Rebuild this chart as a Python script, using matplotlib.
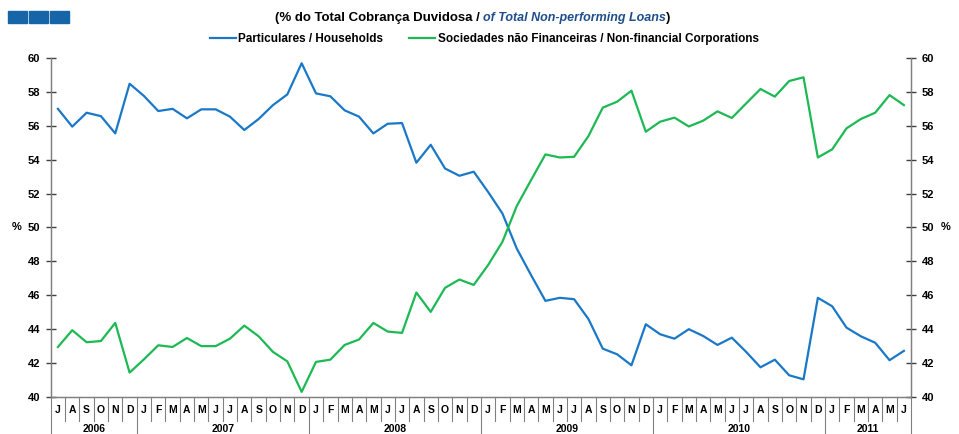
import matplotlib
matplotlib.use('Agg')
import matplotlib.pyplot as plt
import matplotlib.transforms as mtransforms
from matplotlib.patches import Rectangle

plt.rcParams['font.family'] = ['Liberation Sans', 'DejaVu Sans']

# monthly shares, Jul 2006 - Jun 2011 (% of total non-performing loans)
households = [57.0, 55.95, 56.77, 56.57, 55.55, 58.48,
              57.76, 56.87, 57.0, 56.44, 56.97, 56.97, 56.54, 55.75, 56.4, 57.22, 57.85, 59.69,
              57.91, 57.74, 56.91, 56.54, 55.55, 56.12, 56.16, 53.82, 54.88, 53.48, 53.05, 53.29,
              52.1, 50.83, 48.76, 47.19, 45.67, 45.85, 45.77, 44.6, 42.85, 42.52, 41.87, 44.29,
              43.7, 43.44, 44.0, 43.6, 43.07, 43.5, 42.66, 41.75, 42.2, 41.28, 41.04, 45.85,
              45.35, 44.09, 43.58, 43.2, 42.17, 42.72]
corporations = [42.95, 43.94, 43.23, 43.3, 44.37, 41.44,
                42.22, 43.05, 42.95, 43.48, 43.0, 43.0, 43.44, 44.21, 43.58, 42.66, 42.1, 40.3,
                42.07, 42.2, 43.07, 43.39, 44.37, 43.86, 43.78, 46.16, 45.02, 46.44, 46.93, 46.61,
                47.78, 49.15, 51.26, 52.8, 54.31, 54.13, 54.17, 55.39, 57.07, 57.42, 58.07, 55.65,
                56.24, 56.48, 55.96, 56.3, 56.85, 56.46, 57.32, 58.17, 57.72, 58.64, 58.86, 54.13,
                54.61, 55.85, 56.4, 56.77, 57.81, 57.22]
month_letters = ['J', 'F', 'M', 'A', 'M', 'J', 'J', 'A', 'S', 'O', 'N', 'D']
first_month = 6  # July 2006
years = [2006, 2007, 2008, 2009, 2010, 2011]

n = len(households)
x = list(range(n))
month_labels = [month_letters[(first_month + i) % 12] for i in x]
year_of = [years[0] + (first_month + i) // 12 for i in x]

blue = '#1a78c8'
green = '#1db954'
axcol = '#808080'

fig = plt.figure(figsize=(9.59, 4.34), dpi=100)
ax = fig.add_axes([0.0529, 0.0853, 0.8971, 0.7811])
ax.plot(x, households, color=blue, lw=1.6, label='Particulares / Households')
ax.plot(x, corporations, color=green, lw=1.6, label='Sociedades não Financeiras / Non-financial Corporations')
ax.set_xlim(-0.5, n - 0.5)
ax.set_ylim(40, 60)
ax.set_yticks(range(40, 61, 2))
ax.set_xticks([])
ax.spines['top'].set_visible(False)
for s in ['left', 'right', 'bottom']:
    ax.spines[s].set_color(axcol)
    ax.spines[s].set_linewidth(1.0)
ax.tick_params(axis='y', direction='inout', length=7, width=1, color='#404040', pad=4,
               labelsize=8)
for lab in ax.get_yticklabels():
    lab.set_fontweight('bold')

ax2 = ax.twinx()
ax2.set_ylim(40, 60)
ax2.set_yticks(range(40, 61, 2))
ax2.spines['top'].set_visible(False)
for s in ['left', 'right', 'bottom']:
    ax2.spines[s].set_color(axcol)
ax2.tick_params(axis='y', direction='inout', length=7, width=1, color='#404040', pad=4,
                labelsize=8)
for lab in ax2.get_yticklabels():
    lab.set_fontweight('bold')

ax.text(-0.045, 0.5, '%', transform=ax.transAxes, fontsize=8, fontweight='bold', va='center')
ax.text(1.034, 0.5, '%', transform=ax.transAxes, fontsize=8, fontweight='bold', va='center')

# month / year table under the axis
trans = mtransforms.blended_transform_factory(ax.transData, ax.transAxes)
for i in range(n + 1):
    b = i - 0.5
    new_year = (i == 0) or (i == n) or ((first_month + i) % 12 == 0)
    y_end = -0.16 if new_year else -0.072
    ax.plot([b, b], [0, y_end], transform=trans, color=axcol, lw=0.8, clip_on=False)
for i in x:
    ax.text(i, -0.038, month_labels[i], transform=trans, ha='center', va='center',
            fontsize=7.5, fontweight='bold')
for yr in years:
    idx = [i for i in x if year_of[i] == yr]
    ax.text((idx[0] + idx[-1]) / 2, -0.095, str(yr), transform=trans, ha='center', va='center',
            fontsize=7.5, fontweight='bold')

# header
fig.text(0.5036, 0.958, '(% do Total Cobrança Duvidosa / ', ha='right', va='center',
         fontsize=9.5, fontweight='bold')
t = fig.text(0.5036, 0.958, 'of Total Non-performing Loans', ha='left', va='center',
             fontsize=9, fontweight='bold', style='italic', color='#1f4e8c')
fig.canvas.draw()
bb = t.get_window_extent()
fig.text(bb.x1 / fig.bbox.width, 0.958, ')', ha='left', va='center', fontsize=9.5,
         fontweight='bold')

leg = fig.legend(loc='center', bbox_to_anchor=(0.505, 0.91), ncol=2, frameon=False,
                 prop={'size': 8.5, 'weight': 'bold'}, handlelength=2.2, handletextpad=0.2,
                 columnspacing=2.2)

for x0 in [8, 29, 50]:
    fig.patches.append(Rectangle((x0 / 959, 1 - 22.5 / 434), 19 / 959, 12 / 434,
                                 transform=fig.transFigure, color='#1565a8'))

fig.savefig('out.png', dpi=100)
